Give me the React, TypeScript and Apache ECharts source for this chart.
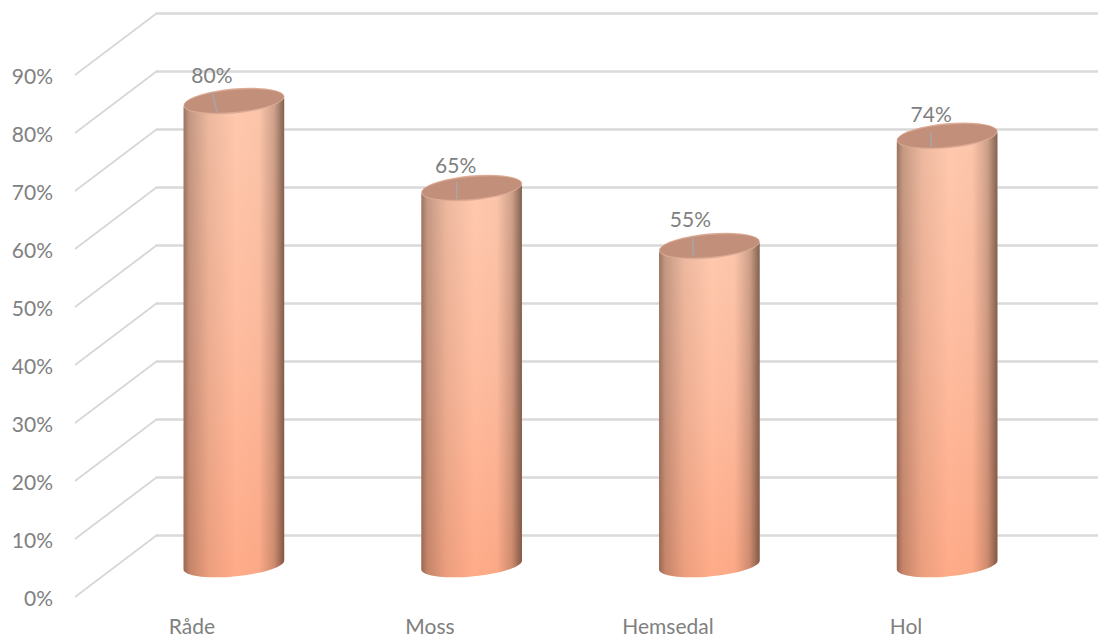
import React, { useEffect, useRef } from "react";
import * as echarts from "echarts";

const places = ["Råde", "Moss", "Hemsedal", "Hol"];
const shares = [80, 65, 55, 74];
const axisTicks = [0, 10, 20, 30, 40, 50, 60, 70, 80, 90];

const FONT = "Lato, 'Open Sans', sans-serif";
const GRID_LINE = "#d9d9d9";
const LABEL_GREY = "#808080";

// Pixel shift of the back wall relative to the front edge of the floor.
const DEPTH_X = 82;
const DEPTH_Y = -62;

// Cylinder cap geometry.
const CAP_MINOR = 11.5;
const CAP_TILT = (5.3 * Math.PI) / 180;
const CAP_STEPS = 36;

// Label anchor and leader line, relative to each cylinder's cap centre.
const labelOffset = [[-22, -27], [-16, -24], [-19, -28], [-16, -22]];
const leaderOffset = [
  [-22, -9, -16.5, 12],
  [-15, -6, -15, 11],
  [-17, -10, -16, 10],
  [-16, -3, -16, 11],
];

function capPoint(cx: number, cy: number, a: number, b: number, t: number) {
  return [
    cx + a * Math.cos(t) * Math.cos(CAP_TILT) + b * Math.sin(t) * Math.sin(CAP_TILT),
    cy - a * Math.cos(t) * Math.sin(CAP_TILT) + b * Math.sin(t) * Math.cos(CAP_TILT),
  ];
}

// Points along the ellipse between two parameter angles.
function capArc(cx: number, cy: number, a: number, b: number, from: number, to: number) {
  const pts: number[][] = [];
  for (let k = 0; k <= CAP_STEPS; k++) {
    pts.push(capPoint(cx, cy, a, b, from + ((to - from) * k) / CAP_STEPS));
  }
  return pts;
}

const toPath = (pts: number[][]) =>
  "M " + pts.map((p) => `${p[0].toFixed(2)} ${p[1].toFixed(2)}`).join(" L ") + " Z";

function renderCylinder(params: any, api: any) {
  const i = api.value(0);
  const value = api.value(1);
  const [cx, topY] = api.coord([i, value]);
  const [, baseY] = api.coord([i, 0]);
  const a = api.size([1, 0])[0] * 0.2125;
  const t0 = Math.atan((CAP_MINOR / a) * Math.tan(CAP_TILT));

  // Outline: lower half of the base ellipse, then the lower half of the cap back again.
  const body = toPath([
    ...capArc(cx, baseY, a, CAP_MINOR, t0 + Math.PI, t0),
    ...capArc(cx, topY, a, CAP_MINOR, t0, t0 + Math.PI),
  ]);
  const cap = (b: number, shrink: number) =>
    toPath(capArc(cx, topY, a - shrink, b, 0, Math.PI * 2));

  const idx = params.dataIndex;
  const [ldx, ldy] = labelOffset[idx];
  const [x1, y1, x2, y2] = leaderOffset[idx];

  return {
    type: "group",
    children: [
      {
        type: "path",
        shape: { pathData: body },
        style: {
          fill: new echarts.graphic.LinearGradient(0, 0, 0, 1, [
            { offset: 0, color: "#ffc9ae" },
            { offset: 0.5, color: "#ffbc9f" },
            { offset: 1, color: "#ffab88" },
          ]),
        },
      },
      {
        type: "path",
        shape: { pathData: body },
        style: {
          fill: new echarts.graphic.LinearGradient(0, 0, 1, 0, [
            { offset: 0, color: "rgba(60,40,30,0.52)" },
            { offset: 0.06, color: "rgba(60,40,30,0.3)" },
            { offset: 0.25, color: "rgba(60,40,30,0.1)" },
            { offset: 0.52, color: "rgba(60,40,30,0)" },
            { offset: 0.75, color: "rgba(60,40,30,0.02)" },
            { offset: 0.9, color: "rgba(60,40,30,0.25)" },
            { offset: 1, color: "rgba(50,35,25,0.62)" },
          ]),
        },
      },
      { type: "path", shape: { pathData: cap(CAP_MINOR + 1, 0) }, style: { fill: "#dcaa93" } },
      { type: "path", shape: { pathData: cap(CAP_MINOR - 0.5, 0.5) }, style: { fill: "#c28f7a" } },
      {
        type: "line",
        shape: { x1: cx + x1, y1: topY + y1, x2: cx + x2, y2: topY + y2 },
        style: { stroke: "#a6a6a6", lineWidth: 1.5 },
      },
      {
        type: "text",
        style: {
          text: `${value}%`,
          x: cx + ldx,
          y: topY + ldy,
          align: "center",
          verticalAlign: "middle",
          fill: LABEL_GREY,
          font: `21px ${FONT}`,
        },
      },
    ],
  };
}

// Slanted floor lines joining each front tick to its line on the back wall.
function renderDiagonal(params: any, api: any) {
  const [, y] = api.coord([0, api.value(1)]);
  const x = params.coordSys.x + 2;
  return {
    type: "line",
    shape: { x1: x, y1: y, x2: x + DEPTH_X, y2: y + DEPTH_Y },
    style: { stroke: GRID_LINE, lineWidth: 2 },
  };
}

export default function App() {
  const ref = useRef<HTMLDivElement>(null);

  useEffect(() => {
    const chart = echarts.init(ref.current!, undefined, { renderer: "svg" });
    chart.setOption({
      animation: false,
      backgroundColor: "#ffffff",
      grid: [
        { left: 73, width: 952, top: 75, height: 522 }, // front edge, carries the labels
        { left: 156, right: 0, top: 13, height: 522 }, // back wall
        { left: 115, width: 951, top: 43, height: 522 }, // plane the cylinders stand on
      ],
      xAxis: [
        {
          gridIndex: 0,
          type: "category",
          data: places,
          axisLine: { show: false },
          axisTick: { show: false },
          axisLabel: { color: LABEL_GREY, fontSize: 21, fontFamily: FONT, margin: 18 },
        },
        { gridIndex: 1, type: "category", data: places, show: false },
        { gridIndex: 2, type: "category", data: places, show: false },
      ],
      yAxis: [
        {
          gridIndex: 0,
          type: "value",
          min: 0,
          max: 90,
          interval: 10,
          axisLine: { show: false },
          axisTick: { show: false },
          splitLine: { show: false },
          axisLabel: {
            color: LABEL_GREY,
            fontSize: 21,
            fontFamily: FONT,
            margin: 20,
            padding: [0, 0, 2, 0],
            formatter: (v: number) => `${v}%`,
          },
        },
        {
          gridIndex: 1,
          type: "value",
          min: 0,
          max: 90,
          interval: 10,
          axisLine: { show: false },
          axisTick: { show: false },
          axisLabel: { show: false },
          splitLine: { show: true, lineStyle: { color: GRID_LINE, width: 2.5 } },
        },
        { gridIndex: 2, type: "value", min: 0, max: 90, interval: 10, show: false },
      ],
      series: [
        {
          type: "custom",
          name: "floor",
          xAxisIndex: 0,
          yAxisIndex: 0,
          silent: true,
          renderItem: renderDiagonal,
          encode: { x: 0, y: 1 },
          data: axisTicks.map((t) => [0, t]),
          z: 1,
        },
        {
          type: "custom",
          name: "share",
          xAxisIndex: 2,
          yAxisIndex: 2,
          renderItem: renderCylinder,
          encode: { x: 0, y: 1 },
          data: shares.map((v, i) => [i, v]),
          z: 5,
        },
      ],
    });
    return () => chart.dispose();
  }, []);

  return (
    <div
      ref={ref}
      style={{ position: "absolute", left: 0, top: 0, width: 1098, height: 638 }}
    />
  );
}
